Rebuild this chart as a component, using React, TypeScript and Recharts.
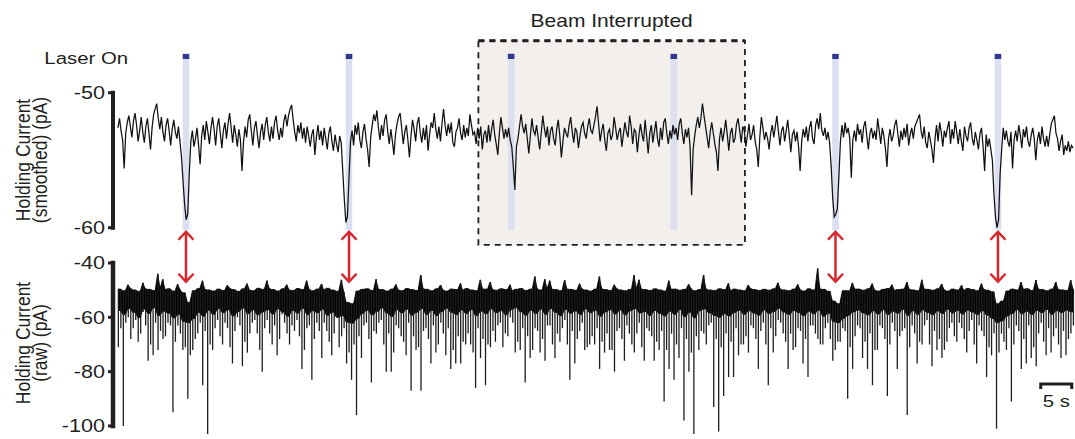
import {
  ComposedChart,
  Line,
  Area,
  Bar,
  XAxis,
  YAxis,
  ReferenceArea,
  ReferenceLine
} from 'recharts';

const INK = '#231f20';
const FONT = '"Liberation Sans", Arial, sans-serif';
const RED = '#d7262e';
const LAVENDER = '#dcdef2';
const NAVY = '#2e3a8f';
const BOX_FILL = '#f2efed';
const STRETCH = 1.2;

// seconds between samples
const SMOOTH_STEP = 0.25;
const RAW_STEP = 0.8;

const laserTimes = [10.97, 37.26, 63.4, 89.63, 115.7, 141.9];
const beamWindow = [58.12, 101.1];

const smoothTicks = [-50, -60];
const rawTicks = [-40, -60, -80, -100];

// holding current, smoothed (pA)
const smoothed = [
  -52.6, -51.9, -52.8, -53.5, -55.6, -53.0, -52.2, -51.7, -52.5, -53.3,
  -52.1, -51.5, -52.4, -53.6, -52.8, -51.8, -52.9, -53.7, -52.5, -51.9,
  -53.0, -54.2, -52.6, -51.6, -51.2, -50.8, -51.9, -52.7, -51.8, -52.9,
  -53.6, -52.4, -51.9, -52.8, -53.9, -52.7, -52.0, -52.9, -53.4, -52.5,
  -53.6, -54.8, -56.6, -58.3, -59.4, -59.0, -56.0, -53.6, -52.8, -54.0,
  -53.4, -52.6, -53.9, -55.3, -53.2, -52.4, -53.5, -52.1, -52.9, -53.8,
  -52.6, -51.8, -52.7, -53.9, -52.5, -51.9, -53.0, -54.1, -52.8, -52.2,
  -53.4, -52.3, -51.5, -52.6, -53.7, -52.4, -53.1, -54.0, -52.7, -53.5,
  -55.8, -53.6, -52.5, -53.3, -52.0, -51.6, -52.8, -53.9, -52.6, -52.1,
  -53.2, -54.1, -52.9, -52.3, -53.5, -52.4, -51.8, -52.9, -53.6, -52.5,
  -53.4, -52.2, -51.7, -52.8, -53.5, -52.6, -53.3, -52.1, -51.6, -52.5,
  -51.7, -51.2, -50.9, -52.0, -52.9, -53.6, -52.4, -53.0, -52.2, -53.4,
  -52.6, -53.7, -52.5, -53.2, -54.0, -53.1, -52.7, -54.6, -53.3, -52.4,
  -53.5, -52.8, -53.9, -52.6, -53.4, -54.2, -53.0, -52.5, -53.6, -54.3,
  -53.1, -53.8, -54.4, -53.2, -53.7, -55.8, -57.9, -59.6, -59.2, -56.4,
  -53.6, -52.8, -53.9, -52.4, -53.1, -52.2, -53.5, -54.1, -52.9, -52.3,
  -53.4, -54.2, -55.5, -53.3, -52.4, -51.6, -52.1, -51.3, -52.6, -53.5,
  -52.4, -53.2, -52.0, -51.6, -52.9, -53.8, -52.7, -53.6, -54.6, -53.1,
  -52.3, -51.8, -51.5, -52.6, -53.8, -52.9, -52.4, -53.5, -54.8, -53.2,
  -52.0, -52.7, -53.6, -52.3, -51.8, -53.0, -53.7, -52.6, -53.5, -52.4,
  -54.3, -53.1, -52.2, -52.6, -51.5, -52.7, -53.4, -52.5, -53.6, -52.3,
  -51.2, -52.4, -53.2, -52.3, -53.0, -52.2, -53.7, -54.0, -52.9, -52.6,
  -51.9, -53.0, -53.5, -52.4, -53.3, -52.6, -53.2, -51.6, -52.4, -53.1,
  -52.9, -53.8, -52.6, -53.4, -52.5, -54.2, -53.1, -52.8, -53.7, -52.4,
  -53.6, -52.7, -52.0, -53.1, -53.8, -54.6, -53.0, -51.8, -52.6, -53.4,
  -52.7, -53.3, -52.6, -53.5, -54.0, -55.5, -57.2, -54.0, -53.4, -52.5,
  -51.6, -52.5, -53.0, -52.3, -53.4, -54.5, -53.2, -51.9, -52.8, -53.1,
  -52.4, -53.3, -54.2, -53.0, -51.7, -52.6, -53.3, -52.5, -53.9, -52.8,
  -52.5, -53.4, -53.9, -52.7, -52.0, -53.2, -54.8, -53.6, -52.6, -53.0,
  -53.3, -52.4, -51.8, -52.9, -53.7, -52.6, -52.9, -54.1, -53.2, -52.5,
  -52.2, -53.0, -53.4, -52.5, -51.9, -52.8, -53.0, -52.4, -51.8, -51.0,
  -52.3, -53.6, -52.8, -52.3, -53.5, -54.3, -53.0, -52.7, -53.5, -53.1,
  -51.8, -52.6, -53.5, -52.9, -52.6, -54.0, -53.1, -52.2, -52.9, -53.3,
  -51.7, -52.5, -53.8, -52.7, -52.9, -54.4, -53.2, -52.3, -53.1, -53.6,
  -52.0, -53.2, -54.5, -53.0, -52.4, -53.7, -52.9, -52.1, -53.4, -54.0,
  -52.6, -53.5, -52.2, -51.9, -53.0, -53.8, -52.8, -53.4, -52.4, -53.1,
  -52.6, -53.5, -52.3, -51.9, -53.0, -53.8, -52.7, -53.3, -52.6, -54.0,
  -57.6, -54.2, -53.2, -52.4, -51.8, -52.6, -51.9, -50.8, -51.7, -52.5,
  -53.3, -54.1, -52.9, -52.2, -53.0, -53.8, -54.4, -55.8, -53.4, -52.6,
  -53.6, -52.9, -52.0, -53.1, -54.3, -53.0, -52.6, -53.7, -53.4, -52.3,
  -51.9, -52.8, -53.7, -52.5, -52.8, -54.0, -53.2, -52.3, -53.5, -53.1,
  -52.4, -53.6, -54.2, -55.5, -53.3, -51.8, -52.6, -53.5, -52.9, -53.4,
  -54.2, -53.0, -52.4, -53.3, -52.5, -51.7, -52.9, -53.9, -52.8, -52.5,
  -53.6, -52.8, -52.0, -53.2, -54.4, -53.1, -52.8, -53.6, -52.9, -54.0,
  -55.8, -53.6, -52.7, -53.3, -52.5, -53.6, -52.6, -52.1, -53.4, -53.8,
  -52.4, -51.9, -52.7, -51.5, -52.8, -53.2, -52.6, -53.5, -52.9, -53.7,
  -55.4, -57.8, -59.2, -59.0, -58.6, -56.2, -53.6, -52.4, -53.3, -52.2,
  -53.0, -52.6, -53.4, -56.3, -53.5, -52.8, -53.6, -52.3, -53.1, -52.7,
  -53.7, -52.5, -52.1, -53.2, -54.2, -53.0, -52.6, -53.4, -52.8, -53.5,
  -51.9, -52.8, -53.8, -52.6, -53.2, -54.1, -55.5, -53.4, -52.7, -53.6,
  -53.2, -52.4, -52.0, -53.0, -54.0, -52.8, -53.5, -52.6, -53.3, -52.3,
  -53.9, -53.1, -52.6, -53.4, -52.5, -52.2, -51.9, -51.6, -52.8, -53.4,
  -52.5, -53.7, -54.1, -52.9, -53.5, -54.2, -55.2, -53.4, -52.4, -53.6,
  -52.2, -52.9, -54.0, -52.8, -53.3, -52.6, -52.1, -53.8, -52.7, -53.4,
  -52.1, -52.9, -53.8, -52.7, -53.6, -54.3, -52.5, -53.2, -53.6, -52.6,
  -52.2, -53.4, -53.9, -52.9, -53.5, -54.2, -53.0, -52.6, -54.0, -55.8,
  -53.1, -54.0, -53.4, -54.2, -55.0, -57.5, -59.2, -60.0, -59.4, -56.0,
  -54.2, -52.6, -53.5, -52.8, -53.6, -54.0, -52.9, -55.6, -53.5, -52.8,
  -53.6, -52.4, -53.1, -54.1, -52.7, -53.3, -52.5, -53.6, -54.0, -53.2,
  -52.6, -53.4, -55.0, -53.5, -52.9, -53.8, -52.5, -53.4, -54.0, -53.2,
  -54.0, -53.1, -52.3, -52.0, -51.7, -53.0, -53.4, -54.3, -53.6, -53.1,
  -54.6, -53.9, -54.3, -53.6, -54.4, -53.9, -54.1
];

// raw trace, one entry per 0.8 s: top of the dense band
const rawUpper = [
  -49.6, -50.2, -49.3, -49.9, -50.4, -49.5, -49.7, -50.1, -49.4, -49.8,
  -49.5, -50.3, -49.8, -51.0, -54.5, -50.2, -49.4, -49.7, -49.9, -50.3,
  -49.6, -50.1, -49.2, -49.8, -50.4, -49.5, -49.9, -50.2, -49.3, -49.7,
  -49.4, -49.8, -50.3, -49.5, -49.9, -50.1, -49.4, -49.8, -49.6, -50.2,
  -49.6, -50.0, -49.3, -49.9, -50.4, -50.6, -54.5, -55.0, -50.3, -49.7,
  -49.5, -50.1, -49.7, -49.8, -50.3, -49.6, -49.9, -50.2, -49.4, -49.8,
  -50.1, -49.5, -49.7, -50.2, -49.5, -49.9, -50.3, -49.6, -49.8, -50.1,
  -49.4, -49.9, -50.2, -49.6, -49.6, -49.8, -50.0, -49.5, -49.8, -50.3,
  -49.7, -49.4, -50.1, -49.6, -49.5, -49.9, -49.6, -49.7, -49.8, -50.2,
  -49.6, -49.7, -50.0, -49.5, -49.9, -50.3, -49.6, -49.5, -49.8, -50.1,
  -49.4, -49.9, -50.2, -49.7, -49.5, -49.6, -49.8, -50.1, -49.5, -49.9,
  -50.3, -49.7, -49.6, -50.0, -49.7, -49.4, -50.2, -49.8, -49.5, -49.9,
  -50.1, -49.5, -49.8, -50.3, -49.6, -49.9, -50.2, -49.4, -49.8, -50.1,
  -49.7, -50.0, -49.5, -49.6, -49.9, -50.2, -49.6, -49.8, -50.3, -49.5,
  -49.9, -49.6, -49.7, -50.4, -54.0, -55.0, -50.2, -50.2, -49.6, -49.6,
  -50.0, -49.5, -49.9, -50.3, -49.7, -49.4, -50.1, -49.8, -49.6, -49.7,
  -49.9, -50.2, -49.6, -49.7, -50.0, -49.5, -49.8, -50.3, -49.6, -49.9,
  -50.1, -49.4, -49.8, -50.2, -49.7, -50.0, -50.6, -55.0, -54.0, -50.3,
  -49.6, -49.9, -49.7, -49.5, -50.1, -49.6, -49.8, -50.2, -49.6, -49.7,
  -49.9, -50.1, -49.6
];

// raw trace: bottom of the solid black band
const rawCore = [
  -57.5, -59.0, -56.8, -58.2, -60.1, -57.0, -58.6, -56.5, -59.3, -57.8,
  -58.5, -60.2, -59.0, -61.5, -62.0, -60.4, -58.2, -59.6, -57.4, -58.9,
  -56.8, -58.3, -57.2, -59.5, -57.9, -56.6, -58.7, -57.3, -59.1, -58.0,
  -57.2, -58.8, -56.9, -58.1, -59.6, -57.5, -58.4, -56.7, -59.0, -57.6,
  -58.3, -57.0, -59.2, -58.1, -60.0, -59.4, -61.8, -62.2, -60.5, -58.6,
  -57.4, -59.1, -57.8, -56.6, -58.5, -59.7, -57.2, -58.4, -57.0, -59.2,
  -58.1, -56.8, -58.9, -57.5, -59.3, -57.9, -56.7, -58.2, -59.0, -57.3,
  -58.6, -57.1, -59.4, -57.8, -58.7, -56.9, -58.3, -57.6, -59.1, -57.2,
  -56.5, -58.0, -59.2, -57.4, -58.6, -57.0, -58.9, -56.8, -58.2, -59.4,
  -57.1, -58.5, -57.7, -59.0, -56.9, -58.3, -57.4, -59.6, -58.0, -57.2,
  -58.8, -57.3, -59.1, -57.6, -56.8, -58.4, -57.9, -59.3, -57.5, -58.6,
  -59.5, -57.8, -58.9, -57.2, -59.8, -58.1, -60.2, -57.6, -56.9, -58.4,
  -59.3, -60.0, -58.7, -59.5, -58.2, -57.4, -58.9, -57.6, -58.5, -59.2,
  -57.3, -58.6, -57.9, -56.7, -58.1, -59.0, -57.5, -58.3, -59.4, -57.8,
  -58.7, -57.4, -59.6, -58.5, -61.6, -62.0, -60.3, -59.2, -58.0, -57.3,
  -58.4, -59.1, -57.6, -58.8, -57.2, -59.0, -57.8, -58.5, -57.1, -59.3,
  -57.6, -58.9, -57.3, -58.2, -59.1, -57.7, -58.6, -57.0, -58.4, -57.5,
  -58.8, -57.4, -58.1, -59.0, -57.6, -59.2, -60.4, -62.0, -61.3, -59.5,
  -58.6, -57.2, -58.7, -57.8, -59.0, -57.5, -58.3, -57.1, -58.9, -57.6,
  -58.2, -57.4, -58.0
];

// raw trace: downward events at each 0.8 s mark
const rawLower = [
  -71, -100, -60, -64, -69, -58, -76, -74, -72, -68,
  -62, -95, -63, -72, -90, -72, -66, -85, -103, -72,
  -61, -70, -64, -77, -60, -78, -73, -62, -66, -80,
  -61, -70, -74, -59, -66, -63, -61, -79, -64, -83,
  -62, -75, -65, -74, -60, -67, -77, -83, -96, -75,
  -62, -84, -66, -61, -80, -80, -63, -67, -74, -87,
  -72, -87, -64, -77, -73, -62, -74, -79, -77, -77,
  -70, -70, -86, -75, -85, -71, -69, -62, -66, -60,
  -73, -72, -84, -75, -64, -73, -76, -63, -75, -69,
  -61, -83, -77, -65, -72, -70, -70, -79, -73, -72,
  -80, -64, -76, -66, -73, -62, -76, -65, -76, -72,
  -91, -79, -83, -75, -98, -80, -103, -72, -66, -63,
  -93, -102, -89, -82, -82, -74, -70, -73, -64, -79,
  -62, -85, -73, -61, -66, -79, -72, -64, -77, -82,
  -63, -68, -70, -62, -76, -69, -64, -90, -79, -63,
  -75, -79, -85, -72, -64, -89, -62, -79, -65, -96,
  -63, -77, -70, -61, -78, -72, -75, -69, -62, -69,
  -64, -73, -61, -77, -65, -82, -74, -101, -66, -72,
  -91, -63, -79, -77, -75, -78, -62, -74, -73, -64,
  -75, -74, -66
];

// raw trace: downward events 0.4 s after each mark
const rawLowerMid = [
  -64, -62, -68, -61, -66, -63, -70, -62, -65, -67,
  -63, -69, -66, -71, -74, -68, -62, -65, -70, -64,
  -67, -62, -71, -65, -63, -69, -66, -61, -72, -64,
  -66, -63, -68, -62, -70, -65, -67, -72, -63, -68,
  -65, -62, -69, -66, -71, -64, -73, -70, -67, -63,
  -68, -65, -62, -70, -66, -73, -64, -69, -62, -67,
  -71, -65, -68, -63, -70, -66, -64, -72, -67, -69,
  -66, -73, -64, -68, -70, -65, -63, -71, -67, -62,
  -69, -64, -67, -72, -65, -68, -63, -70, -66, -64,
  -70, -65, -68, -62, -71, -67, -64, -69, -66, -72,
  -65, -68, -63, -70, -66, -71, -64, -67, -69, -65,
  -72, -66, -70, -64, -68, -73, -67, -65, -70, -62,
  -68, -71, -66, -69, -64, -70, -67, -63, -68, -65,
  -70, -64, -67, -62, -69, -66, -71, -65, -68, -63,
  -66, -70, -64, -68, -72, -69, -65, -71, -67, -64,
  -69, -66, -72, -63, -68, -70, -65, -67, -64, -71,
  -66, -69, -63, -70, -65, -68, -72, -64, -67, -62,
  -68, -65, -70, -63, -67, -71, -66, -73, -69, -64,
  -70, -65, -68, -63, -71, -66, -69, -64, -67, -70,
  -65, -68, -63
];

// upward events: [mark index, peak pA]
const rawUpSpikes = [
  [2, -48.0], [5, -47.3], [8, -44.0], [9, -46.0], [12, -47.8], [17, -46.5],
  [22, -48.2], [26, -47.6], [30, -46.5], [34, -48.0], [38, -46.5], [41, -47.7],
  [45, -46.2], [52, -46.0], [56, -47.9], [61, -44.4], [65, -48.1], [69, -47.5],
  [73, -46.2], [75, -47.0], [79, -48.0], [84, -45.0], [86, -46.0], [87, -46.5],
  [90, -46.3], [93, -47.6], [97, -45.0], [100, -48.0], [104, -44.5], [105, -46.2],
  [111, -46.5], [115, -47.8], [118, -44.4], [123, -47.5], [127, -48.1], [133, -47.3],
  [137, -47.9], [141, -42.0], [148, -47.3], [152, -47.6], [156, -48.0], [159, -47.0],
  [162, -46.2], [166, -47.7], [170, -48.2], [174, -47.6], [182, -47.0], [185, -46.3],
  [189, -47.0], [192, -46.3]
];

const smoothTable = smoothed.map((v, i) => ({ t: i * SMOOTH_STEP, v }));

const peakAt: Record<number, number> = {};
rawUpSpikes.forEach(([p, v]) => {
  peakAt[p] = v;
});

const rawTable = rawUpper.flatMap((hi, p) => {
  const top = peakAt[p] !== undefined ? peakAt[p] : hi;
  return [
    { t: p * RAW_STEP, band: [rawCore[p], top], spike: [rawLower[p], top] },
    { t: p * RAW_STEP + RAW_STEP / 2, band: [rawCore[p], hi], spike: [rawLowerMid[p], hi] }
  ];
});

const arrowTimes = laserTimes.filter(t => t < beamWindow[0] || t > beamWindow[1]);

function StretchedTick(props: any) {
  const { x, y, payload } = props;
  return (
    <text
      dominantBaseline='central'
      fill={INK}
      fontFamily={FONT}
      fontSize={18}
      textAnchor='end'
      transform={`translate(${x},${y}) scale(${STRETCH},1)`}
    >
      {payload.value}
    </text>
  );
}

function axisTitle(lines: string[], cy: number) {
  return () => (
    <g>
      {lines.map((line, k) => (
        <text
          fill={INK}
          fontFamily={FONT}
          fontSize={17.5}
          key={line}
          textAnchor='middle'
          transform={`translate(${29.5 + k * 17.5},${cy}) scale(${STRETCH},1) rotate(-90)`}
        >
          {line}
        </text>
      ))}
    </g>
  );
}

function beamTitle(props: any) {
  const vb = props.viewBox;
  return (
    <text
      fill={INK}
      fontFamily={FONT}
      fontSize={17.5}
      textAnchor='middle'
      transform={`translate(${vb.x + vb.width / 2},${vb.y - 14}) scale(${STRETCH},1)`}
    >
      Beam Interrupted
    </text>
  );
}

function laserTitle(props: any) {
  const vb = props.viewBox;
  return (
    <text
      fill={INK}
      fontFamily={FONT}
      fontSize={17}
      textAnchor='end'
      transform={`translate(${vb.x - 54.5},${vb.y + 9.7}) scale(${STRETCH},1)`}
    >
      Laser On
    </text>
  );
}

function DoubleArrow(props: any) {
  const { x1, y1, y2 } = props;
  const top = Math.min(y1, y2);
  const bot = Math.max(y1, y2);
  return (
    <path
      d={`M${x1},${top} V${bot} M${x1 - 7.5},${top + 8} L${x1},${top} L${x1 + 7.5},${top + 8} M${x1 - 7.5},${bot - 8} L${x1},${bot} L${x1 + 7.5},${bot - 8}`}
      fill='none'
      stroke={RED}
      strokeWidth={2.5}
    />
  );
}

function ScaleBar(props: any) {
  const { x1, y1, x2 } = props;
  return (
    <g>
      <path
        d={`M${x1},${y1 + 5} V${y1} H${x2} V${y1 + 5}`}
        fill='none'
        stroke={INK}
        strokeWidth={3}
      />
      <text
        fill={INK}
        fontFamily={FONT}
        fontSize={17}
        textAnchor='middle'
        transform={`translate(${(x1 + x2) / 2},${y1 + 23}) scale(${STRETCH},1)`}
      >
        5 s
      </text>
    </g>
  );
}

function App() {
  return (
    <div style={{ position: 'absolute', left: 0, top: 0, width: 1075, height: 439, background: '#fff' }}>
      <div style={{ position: 'absolute', left: 0, top: 0 }}>
        <ComposedChart
          data={smoothTable}
          height={439}
          margin={{ top: 32, right: 2, bottom: 191, left: 0 }}
          width={1075}
        >
          <XAxis dataKey='t' domain={[-0.8, 154]} hide type='number' />
          <YAxis
            axisLine={false}
            domain={[-61.5, -45.5]}
            interval={0}
            label={axisTitle(['Holding Current', '(smoothed) (pA)'], 160)}
            tick={StretchedTick}
            tickLine={{ stroke: INK, strokeWidth: 3 }}
            tickMargin={3}
            tickSize={5}
            ticks={smoothTicks}
            type='number'
            width={113}
          />
          <ReferenceArea
            fill={BOX_FILL}
            fillOpacity={1}
            label={beamTitle}
            stroke={INK}
            strokeDasharray='6 5'
            strokeWidth={1.8}
            x1={beamWindow[0]}
            x2={beamWindow[1]}
            y1={-61.27}
            y2={-46.14}
          />
          <ReferenceLine
            ifOverflow='visible'
            segment={[{ x: beamWindow[0], y: -46.14 }, { x: beamWindow[1], y: -46.14 }]}
            stroke={INK}
            strokeDasharray='6 5'
            strokeWidth={3}
          />
          {laserTimes.map(t => (
            <ReferenceArea
              fill={LAVENDER}
              fillOpacity={1}
              key={`bar-${t}`}
              stroke='none'
              x1={t - 0.53}
              x2={t + 0.53}
              y1={-60.16}
              y2={-47.5}
            />
          ))}
          {laserTimes.map((t, k) => (
            <ReferenceArea
              fill={NAVY}
              fillOpacity={1}
              key={`sq-${t}`}
              label={k === 0 ? laserTitle : undefined}
              stroke='none'
              x1={t - 0.53}
              x2={t + 0.53}
              y1={-47.5}
              y2={-47.12}
            />
          ))}
          <ReferenceLine
            ifOverflow='visible'
            segment={[{ x: -0.8, y: -50 }, { x: -0.8, y: -60 }]}
            stroke={INK}
            strokeLinecap='square'
            strokeWidth={4}
          />
          <Line
            dataKey='v'
            dot={false}
            isAnimationActive={false}
            stroke='#111'
            strokeWidth={1.25}
            type='linear'
          />
        </ComposedChart>
      </div>
      <div style={{ position: 'absolute', left: 0, top: 0 }}>
        <ComposedChart
          data={rawTable}
          height={439}
          margin={{ top: 230, right: 2, bottom: 3, left: 0 }}
          width={1075}
        >
          <XAxis dataKey='t' domain={[-0.8, 154]} hide type='number' />
          <YAxis
            axisLine={false}
            domain={[-103.7, -27.85]}
            interval={0}
            label={axisTitle(['Holding Current', '(raw) (pA)'], 343)}
            tick={StretchedTick}
            tickLine={{ stroke: INK, strokeWidth: 3 }}
            tickMargin={3}
            tickSize={5}
            ticks={rawTicks}
            type='number'
            width={113}
          />
          <ReferenceLine
            ifOverflow='visible'
            segment={[{ x: -0.8, y: -40 }, { x: -0.8, y: -100 }]}
            stroke={INK}
            strokeLinecap='square'
            strokeWidth={4.5}
          />
          <Bar
            barSize={1.3}
            dataKey='spike'
            fill='#1e1e1e'
            isAnimationActive={false}
          />
          <Area
            activeDot={false}
            dataKey='band'
            dot={false}
            fill='#000'
            fillOpacity={1}
            isAnimationActive={false}
            stroke='#000'
            strokeWidth={0.8}
            type='linear'
          />
          {arrowTimes.map(t => (
            <ReferenceLine
              ifOverflow='visible'
              key={`arrow-${t}`}
              segment={[{ x: t, y: -28.5 }, { x: t, y: -46.9 }]}
              shape={DoubleArrow}
            />
          ))}
          <ReferenceLine
            ifOverflow='visible'
            segment={[{ x: 148.8, y: -84.54 }, { x: 153.8, y: -84.54 }]}
            shape={ScaleBar}
          />
        </ComposedChart>
      </div>
    </div>
  );
}

export default App;
